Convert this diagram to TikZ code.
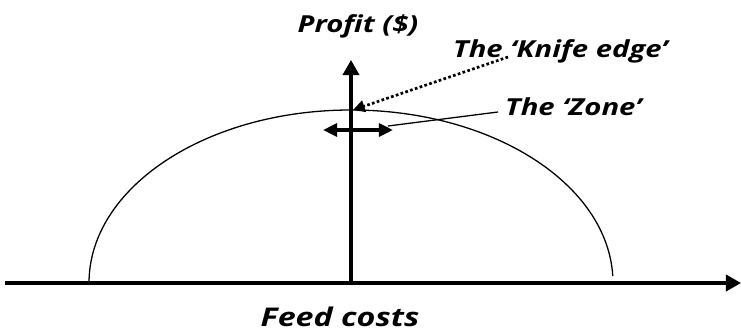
\documentclass[tikz,border=0pt]{standalone}
\usepackage{fontspec}
\newfontfamily\labelfont{Open Sans}[FakeStretch=1.25]
\usetikzlibrary{arrows.meta, calc, positioning}

\tikzset{
    axisline/.style={line width=2.7pt, -{Triangle[length=13pt, width=14pt]}},
    curveline/.style={line width=1.1pt},
    labeltext/.style={font=\labelfont\bfseries\itshape\fontsize{20}{20}\selectfont, inner sep=0pt},
}

\begin{document}
\begin{tikzpicture}[x=0.03cm, y=0.03cm]
            \useasboundingbox (0,0) rectangle (741,332);
            \def\rx{262}   % half width of the profit curve
            \def\ry{173}   % height of the profit curve
            \coordinate (O) at (351,49);
            \coordinate (xstart) at (5,49);
            \coordinate (xend) at (741,49);
            \coordinate (ytop) at (351,272);
            % axes
            \draw[axisline] (xstart) -- (xend);
            \draw[axisline] (O) -- (ytop);
            % profit curve
            \draw[curveline] ($(O)+(-\rx,0)$) arc[start angle=180, end angle=2.3, x radius=\rx, y radius=\ry];
            % labels
            \node[labeltext, anchor=base] (profit) at (358,299) {Profit (\$)};
            \node[labeltext, anchor=base west] (knife) at (453,274) {The ‘Knife edge’};
            \node[labeltext, anchor=base west] (zone) at (505,216) {The ‘Zone’};
            \node[labeltext, anchor=base, font=\labelfont\bfseries\itshape\fontsize{22}{22}\selectfont] (feed) at (340,6) {Feed costs};
            % the zone
            \coordinate (zleft) at (323,202);
            \coordinate (zright) at (393,202);
            \draw[line width=2.7pt, {Triangle[length=12pt, width=11pt]}-{Triangle[length=12pt, width=11pt]}] (zleft) -- (zright);
            \coordinate (zonetip) at (388,206);
            \draw[line width=1.1pt] ($(zone.base west)+(-7,4)$) -- (zonetip);
            % the knife edge
            \coordinate (peak) at (353,222);
            \draw[line width=2.3pt, dotted, -{Triangle[length=10pt, width=10pt]}] ($(knife.base west)+(55,1)$) -- (peak);
        \end{tikzpicture}
\end{document}
